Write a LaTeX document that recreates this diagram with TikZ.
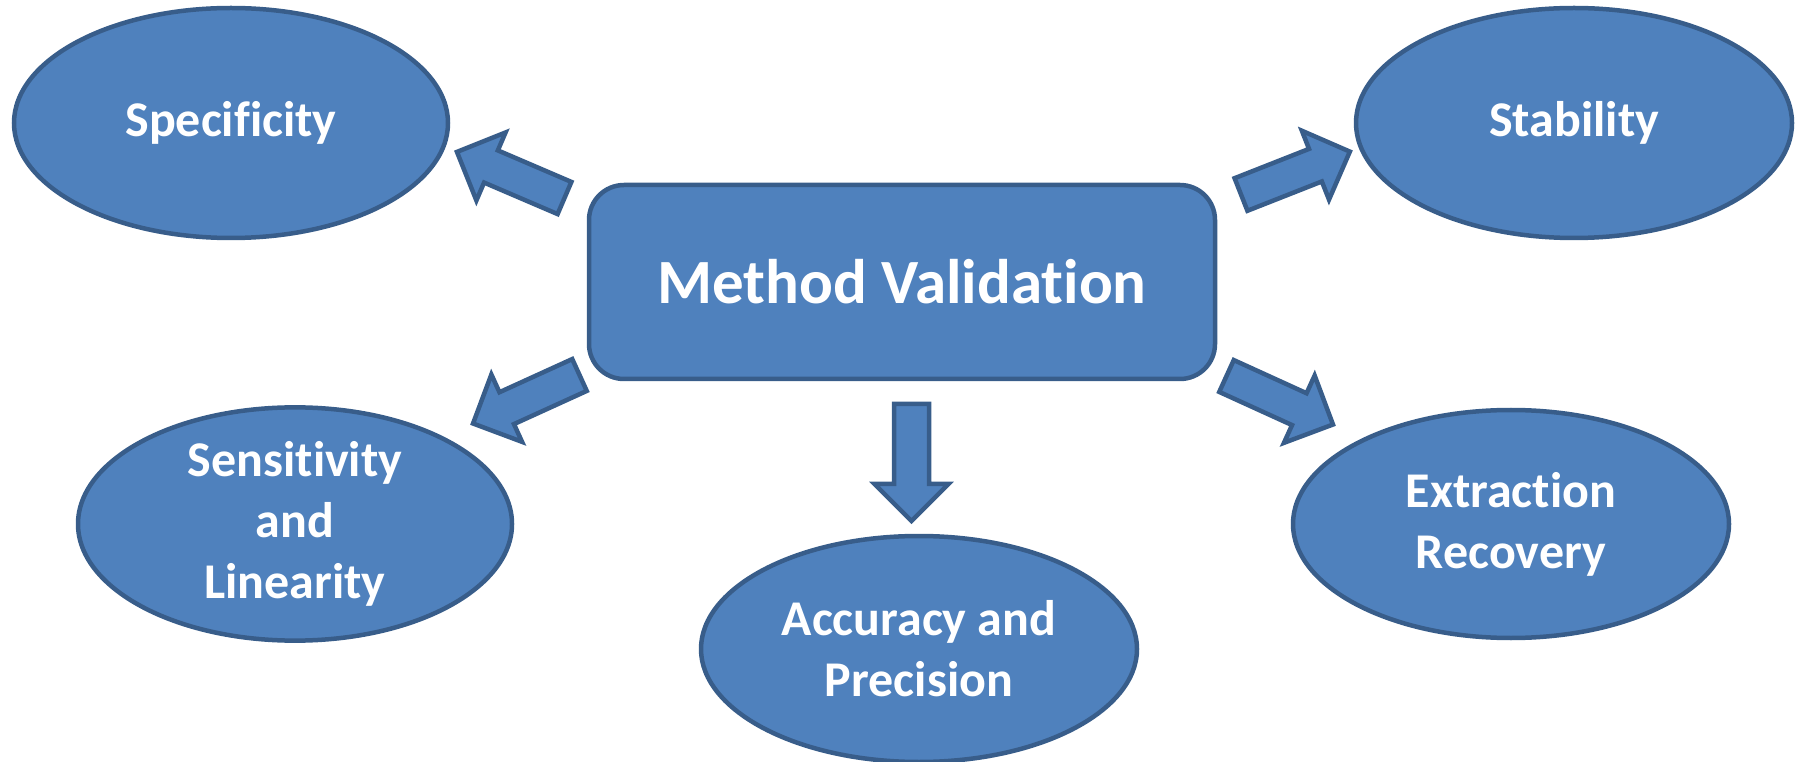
\documentclass[tikz,border=0pt]{standalone}
\usepackage{fontspec}
\setmainfont[RawFeature={-liga;-clig;-dlig}]{Carlito}
\usetikzlibrary{shapes.geometric}
\definecolor{fillblue}{HTML}{4F81BD}
\definecolor{lineblue}{HTML}{385D8A}
\begin{document}
\begin{tikzpicture}[x=1pt,y=1pt,
  shapebase/.style={draw=lineblue, fill=fillblue, line width=4.5pt},
  oval/.style={shapebase, ellipse, inner sep=0pt, text=white, align=center,
    font=\fontsize{50}{61}\selectfont\bfseries},
  mainbox/.style={shapebase, rounded corners=35pt, minimum width=626pt,
    minimum height=194pt, text=white, font=\fontsize{63}{76}\selectfont\bfseries},
  blockarrow/.pic={\draw[shapebase, line join=miter]
    (0,-17.5) -- (80,-17.5) -- (80,-37) -- (117,0) -- (80,37) -- (80,17.5) -- (0,17.5) -- cycle;}
]
\useasboundingbox (0,0) rectangle (1801,761);

\node[mainbox] (mv) at (902,479) {Method Validation};

\node[oval, minimum width=434pt, minimum height=230pt] (spec) at (231,638) {Specificity};
\node[oval, minimum width=436pt, minimum height=230pt] (stab) at (1574,638) {Stability};
\node[oval, minimum width=434pt, minimum height=228pt] (sens) at (295,237) {Sensitivity\\and\\Linearity};
\node[oval, minimum width=436pt, minimum height=226pt] (acc) at (919,112) {Accuracy and\\Precision};
\node[oval, minimum width=436pt, minimum height=228pt] (ext) at (1511,237) {Extraction\\Recovery};

\pic[rotate=156.8] (aul) at (564.5,563) {blockarrow};
\pic[rotate=21.5] (aur) at (1241,566.5) {blockarrow};
\pic[rotate=204.5] (all) at (579.5,386) {blockarrow};
\pic[rotate=-24.5] (alr) at (1226.5,385) {blockarrow};
\pic[rotate=-90] (ad) at (911.5,357) {blockarrow};
\end{tikzpicture}
\end{document}
